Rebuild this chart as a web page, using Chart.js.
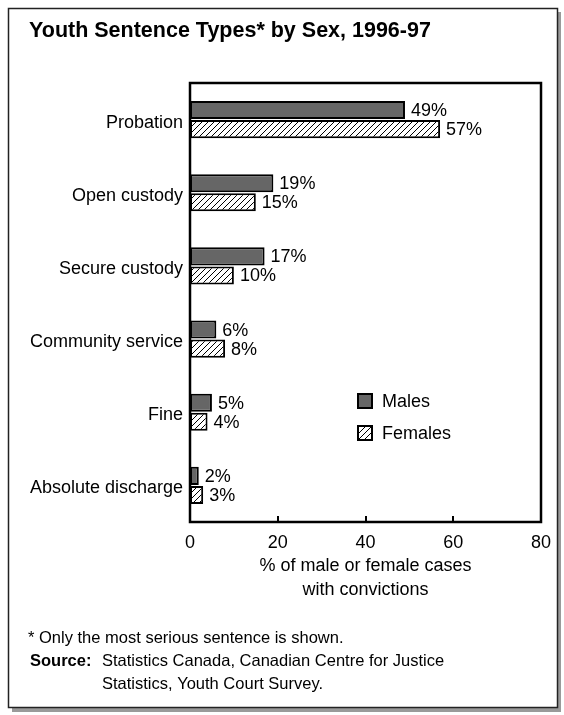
<!DOCTYPE html>
<html>
<head>
<meta charset="utf-8">
<title>Youth Sentence Types by Sex, 1996-97</title>
<script src="https://cdn.jsdelivr.net/npm/chart.js@4"></script>
<style>
  body { margin: 0; background: #fff; }
  canvas { display: block; }
</style>
</head>
<body>
<canvas id="sentence_chart" width="564" height="715"></canvas>
<script>
// data
var categories = ['Probation', 'Open custody', 'Secure custody', 'Community service', 'Fine', 'Absolute discharge']
var males = [49, 19, 17, 6, 5, 2]
var females = [57, 15, 10, 8, 4, 3]
var x_ticks = [0, 20, 40, 60, 80]

var font_family = '"Liberation Sans", Arial, Helvetica, sans-serif'

// diagonal hatch used for the females bars
function hatchPattern(){
  var size = 6
  var c = document.createElement('canvas')
  c.width = size
  c.height = size
  var g = c.getContext('2d')
  g.fillStyle = '#fff'
  g.fillRect(0, 0, size, size)
  g.strokeStyle = '#000'
  g.lineWidth = 1
  g.beginPath()
  g.moveTo(0, size); g.lineTo(size, 0)
  g.moveTo(-1, 1); g.lineTo(1, -1)
  g.moveTo(size - 1, size + 1); g.lineTo(size + 1, size - 1)
  g.stroke()
  return g.createPattern(c, 'repeat')
}

var hatch = hatchPattern()

// frame, title, notes, legend, box and value labels
var decorations = {
  id: 'decorations',
  beforeDraw: function(chart){
    var ctx = chart.ctx
    ctx.save()
    ctx.fillStyle = '#fff'
    ctx.fillRect(0, 0, chart.width, chart.height)
    // shadow
    ctx.fillStyle = '#9a9a9a'
    ctx.fillRect(12, 708, 549, 4)
    ctx.fillRect(558, 12, 3, 700)
    // frame
    ctx.strokeStyle = '#222'
    ctx.lineWidth = 1.5
    ctx.strokeRect(8.5, 8.5, 549, 699)
    ctx.restore()
  },
  afterDatasetsDraw: function(chart){
    var ctx = chart.ctx
    var area = chart.chartArea
    var x = chart.scales.x
    ctx.save()

    // plot box
    ctx.strokeStyle = '#000'
    ctx.lineWidth = 2.5
    ctx.strokeRect(area.left, area.top, area.right - area.left, area.bottom - area.top)

    // inward tick marks
    ctx.lineWidth = 2
    ctx.beginPath()
    x_ticks.slice(1, -1).forEach(function(v){
      var px = Math.round(x.getPixelForValue(v))
      ctx.moveTo(px, area.bottom)
      ctx.lineTo(px, area.bottom - 6)
    })
    ctx.stroke()

    // value labels
    ctx.fillStyle = '#000'
    ctx.font = '18px ' + font_family
    ctx.textBaseline = 'middle'
    ctx.textAlign = 'left'
    chart.data.datasets.forEach(function(ds, i){
      chart.getDatasetMeta(i).data.forEach(function(bar, j){
        ctx.fillText(ds.data[j] + '%', bar.x + 6, bar.y + 1)
      })
    })

    // axis title
    ctx.textAlign = 'center'
    var mid = (area.left + area.right) / 2
    ctx.fillText('% of male or female cases', mid, 566)
    ctx.fillText('with convictions', mid, 590)

    // legend
    var items = [['Males', 0, 401], ['Females', 1, 433]]
    ctx.textAlign = 'left'
    items.forEach(function(it){
      var ds = chart.data.datasets[it[1]]
      ctx.fillStyle = ds.backgroundColor
      ctx.fillRect(358, it[2] - 7, 14, 14)
      ctx.strokeStyle = '#000'
      ctx.lineWidth = 2
      ctx.strokeRect(358, it[2] - 7, 14, 14)
      ctx.fillStyle = '#000'
      ctx.fillText(it[0], 382, it[2] + 1)
    })

    // title and notes
    ctx.font = 'bold 21.5px ' + font_family
    ctx.fillText('Youth Sentence Types* by Sex, 1996-97', 29, 31)
    ctx.font = '16.5px ' + font_family
    ctx.fillText('* Only the most serious sentence is shown.', 28, 638)
    ctx.font = 'bold 16.5px ' + font_family
    ctx.fillText('Source:', 30, 661)
    ctx.font = '16.5px ' + font_family
    ctx.fillText('Statistics Canada, Canadian Centre for Justice', 102, 661)
    ctx.fillText('Statistics, Youth Court Survey.', 102, 684)
    ctx.restore()
  }
}

var sentence_canvas = document.getElementById('sentence_chart')
var sentence_chart = new Chart(sentence_canvas.getContext('2d'), {
  type: 'bar',
  data: {
    labels: categories,
    datasets: [{
      label: 'Males',
      data: males,
      backgroundColor: '#666666',
      borderColor: '#000',
      borderWidth: 2,
      borderSkipped: false
    }, {
      label: 'Females',
      data: females,
      backgroundColor: hatch,
      borderColor: '#000',
      borderWidth: 2,
      borderSkipped: false
    }]
  },
  options: {
    indexAxis: 'y',
    responsive: false,
    animation: false,
    categoryPercentage: 0.52,
    barPercentage: 0.95,
    layout: {
      padding: { top: 83, right: 23, left: 0, bottom: 153 }
    },
    plugins: {
      legend: { display: false },
      title: { display: false },
      tooltip: { enabled: false }
    },
    scales: {
      x: {
        min: 0,
        max: 80,
        afterBuildTicks: function(scale){
          scale.ticks = x_ticks.map(function(v){ return { value: v } })
        },
        afterFit: function(scale){ scale.height = 40 },
        grid: { display: false, drawTicks: false },
        border: { display: false },
        ticks: {
          padding: 10,
          color: '#000',
          font: { family: font_family, size: 18 }
        }
      },
      y: {
        afterFit: function(scale){ scale.width = 190 },
        grid: { display: false, drawTicks: false },
        border: { display: false },
        ticks: {
          padding: 7,
          labelOffset: 3,
          color: '#000',
          font: { family: font_family, size: 18 }
        }
      }
    }
  },
  plugins: [decorations]
})
</script>
</body>
</html>
